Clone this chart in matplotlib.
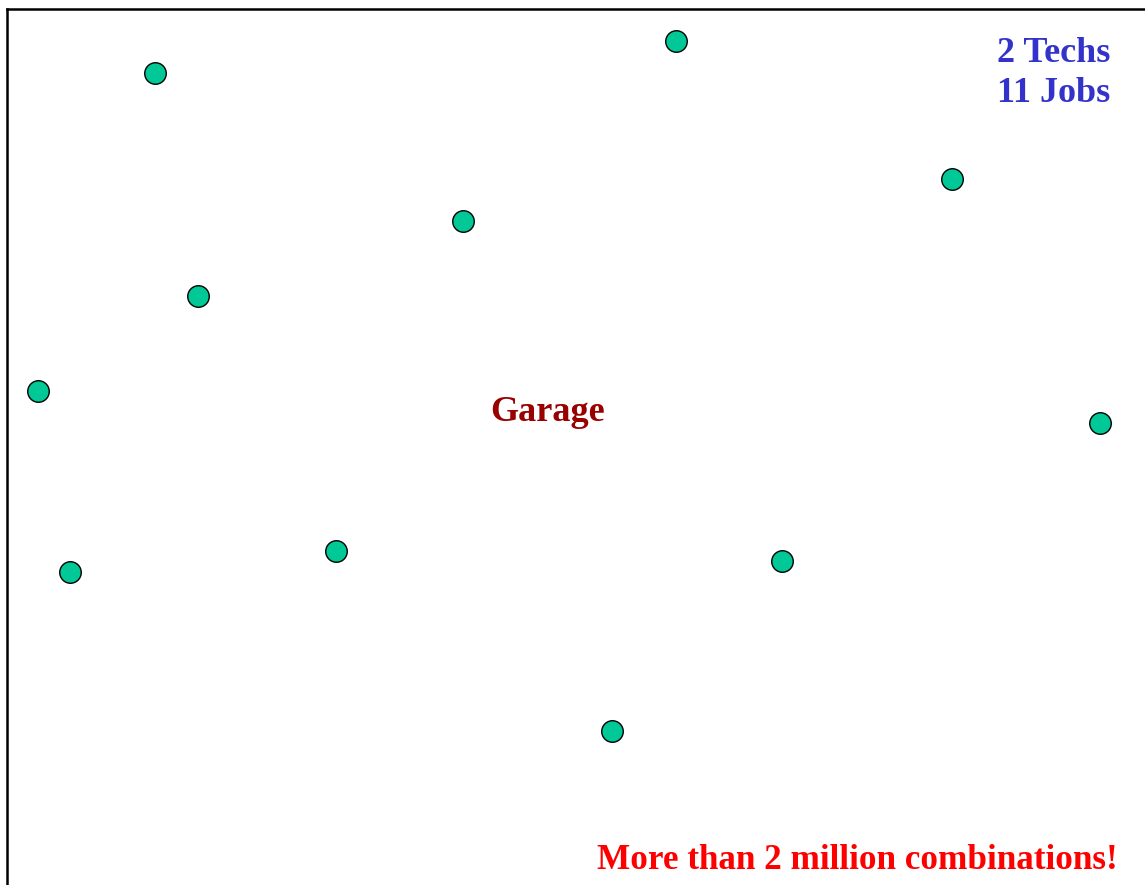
#!/usr/bin/env python3
import matplotlib
matplotlib.use('Agg')
import matplotlib.pyplot as plt

# job locations (pixel-like map coords, y downwards)
job_x = [155, 676, 952, 463, 198, 38, 1100, 70, 336, 782, 612]
job_y = [73, 41, 179, 221, 296, 391, 423, 572, 551, 561, 731]

n_techs = 2
n_jobs = 11

W, H = 1145, 885
fig = plt.figure(figsize=(W / 100, H / 100), dpi=100)
ax = fig.add_axes([7 / W, 0, 1 - 7 / W, 1 - 9 / H])
ax.set_xlim(7, W)
ax.set_ylim(H, 9)
ax.set_xticks([])
ax.set_yticks([])
for s in ['right', 'bottom']:
    ax.spines[s].set_visible(False)
for s in ['left', 'top']:
    ax.spines[s].set_linewidth(1.8)

ax.scatter(job_x, job_y, s=15.5 ** 2, color='#00C896', edgecolor='black',
           linewidth=1.0, zorder=3)

font = dict(family='Liberation Serif', weight='bold')
ax.text(1110, 53, f"{n_techs} Techs", ha='right', va='center', fontsize=26,
        color='#3333CC', **font)
ax.text(1110, 93, f"{n_jobs} Jobs", ha='right', va='center', fontsize=26,
        color='#3333CC', **font)
ax.text(548, 412, "Garage", ha='center', va='center', fontsize=26,
        color='#990000', **font)
ax.text(1118, 860, "More than 2 million combinations!", ha='right', va='center',
        fontsize=25.3, color='#FF0000', **font)

plt.savefig('out.png', dpi=100)
